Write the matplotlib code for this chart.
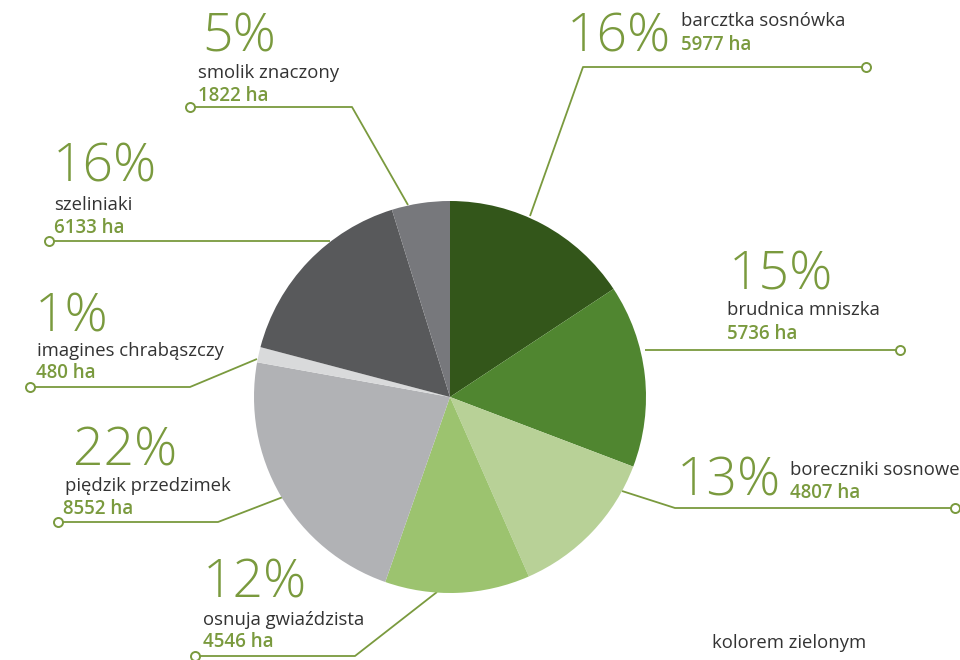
import matplotlib.pyplot as plt
from matplotlib import font_manager

# Data
names = ['barcztka sosnówka', 'brudnica mniszka', 'boreczniki sosnowe', 'osnuja gwiaździsta',
         'piędzik przedzimek', 'imagines chrabąszczy', 'szeliniaki', 'smolik znaczony']
hectares = [5977, 5736, 4807, 4546, 8552, 480, 6133, 1822]
colors = ['#33561a', '#508630', '#b8d197', '#9cc36f', '#b1b2b5', '#d9dadb', '#58595b', '#77787c']

GREEN = '#7a9a3e'
DARK = '#333333'

fams = [f.name for f in font_manager.fontManager.ttflist]
FONT = 'Open Sans' if 'Open Sans' in fams else 'DejaVu Sans'
plt.rcParams['font.family'] = [FONT, 'DejaVu Sans']

# Layout (pixel coords, y down): percent pos, name pos, value pos, leader polyline
pct_pos = [(567, 51), (729, 289), (677, 495), (203, 598), (73, 466), (35, 331), (53, 182), (202, 52)]
name_pos = [(681, 26), (727, 315), (790, 475), (203, 625), (65, 491), (37, 356), (54, 210), (198, 78)]
val_pos = [(681, 50), (727, 339), (790, 498), (203, 647), (63, 514), (36, 378), (54, 233), (198, 101)]
leaders = [
    [(530, 216), (583, 67), (866, 67)],
    [(645, 350), (900, 350)],
    [(622, 491), (675, 508), (955, 508)],
    [(437, 592), (355, 656), (195, 656)],
    [(283, 497), (218, 522), (58, 522)],
    [(257, 359), (190, 387), (30, 387)],
    [(330, 241), (49, 241)],
    [(408, 205), (352, 107), (190, 107)],
]

fig = plt.figure(figsize=(9.6, 6.6), dpi=100)
ax = fig.add_axes([0, 0, 1, 1])

total = sum(hectares)

# y axis is inverted below, so counterclock in data space looks clockwise
ax.pie(hectares, colors=colors, startangle=-90, counterclock=True,
       center=(450, 397), radius=196, wedgeprops=dict(linewidth=0, zorder=3))

for pts in leaders:
    xs = [p[0] for p in pts]
    ys = [p[1] for p in pts]
    ax.plot(xs, ys, color=GREEN, lw=1.3, zorder=2, solid_capstyle='butt')
    ax.plot(xs[-1], ys[-1], 'o', ms=6.5, mfc='white', mec=GREEN, mew=1.4, zorder=4)

for i, v in enumerate(hectares):
    pct = round(v / total * 100)
    ax.text(pct_pos[i][0], pct_pos[i][1], f'{pct}%', fontsize=38.5, color=GREEN,
            fontweight='light', va='baseline', ha='left')
    ax.text(name_pos[i][0], name_pos[i][1], names[i], fontsize=13.3, color=DARK,
            va='baseline', ha='left')
    ax.text(val_pos[i][0], val_pos[i][1], f'{v} ha', fontsize=13.5, color=GREEN,
            fontweight='semibold', va='baseline', ha='left')

ax.text(712, 648, 'kolorem zielonym', fontsize=13.3, color=DARK, va='baseline', ha='left')

ax.set_xlim(0, 960)
ax.set_ylim(660, 0)
ax.set_aspect('equal')
ax.axis('off')

fig.savefig('out.png', dpi=100, facecolor='white')
